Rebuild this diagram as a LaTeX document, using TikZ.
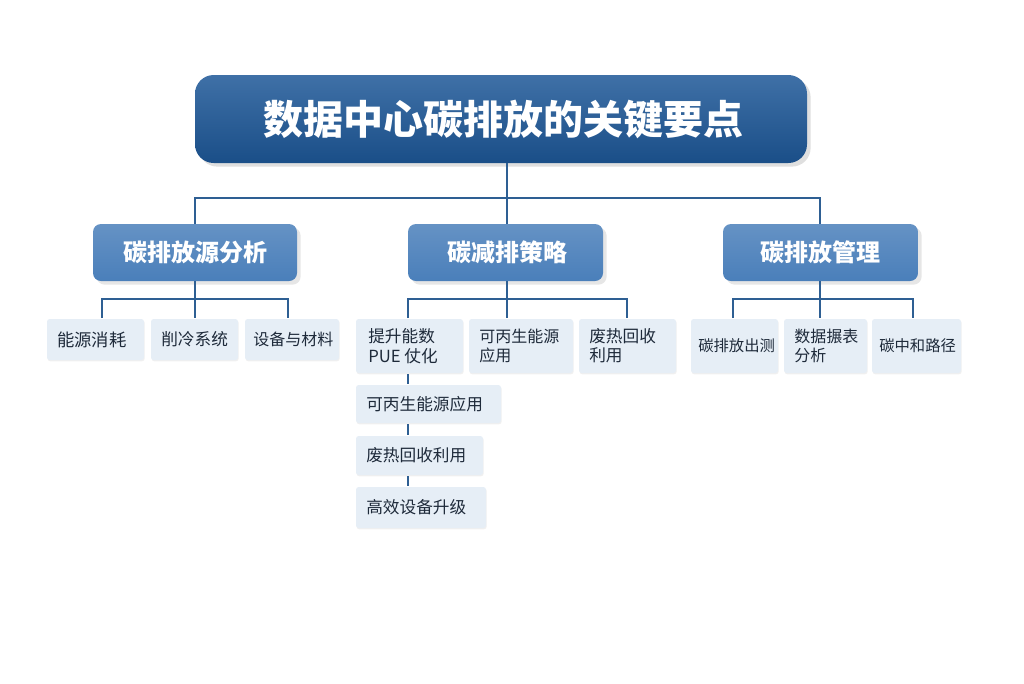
\documentclass[tikz,border=0pt]{standalone}
\usepackage{fontspec}
\setmainfont{Noto Sans CJK SC}
\usetikzlibrary{shadows}
\definecolor{dk}{HTML}{1D5797}
\definecolor{md}{HTML}{4A7FBA}
\definecolor{lf}{HTML}{E6EEF6}
\definecolor{ln}{HTML}{2E5F93}
\definecolor{tx}{HTML}{1E2A3A}
\begin{document}
\begin{tikzpicture}[x=0.75pt,y=-0.75pt,
 top/.style={draw=none,rounded corners=14pt,top color=dk!85!white,bottom color=dk!90!black,drop shadow={opacity=0.25}},
 mid/.style={draw=none,rounded corners=6pt,top color=md!85!white,bottom color=md,drop shadow={opacity=0.2}},
 toptext/.style={text=white,font=\fontsize{30}{34}\selectfont\bfseries},
 midtext/.style={text=white,font=\fontsize{18}{22}\selectfont\bfseries},
 leaf/.style={draw=none,fill=lf,rounded corners=2pt,drop shadow={opacity=0.12,shadow xshift=0.5pt,shadow yshift=-1pt}},
 con/.style={draw=ln,line width=1.5pt}]
\useasboundingbox (0,0) rectangle (1024,683);
% title
\path[top] (195,75) rectangle (807,163);
\node[toptext] (t) at (503,119) {数据中心碳排放的关键要点};
\coordinate (tb) at (507,163);
% level 2
\path[mid] (93,224) rectangle (297,281); \node[midtext] (a) at (195,252) {碳排放源分析};
\path[mid] (408,224) rectangle (603,281); \node[midtext] (b) at (507,252) {碳减排策略};
\path[mid] (723,224) rectangle (918,281); \node[midtext] (c) at (820,252) {碳排放管理};
\coordinate (ab) at (195,281); \coordinate (bb) at (507,281); \coordinate (cb) at (820,281);
\coordinate (at) at (195,224); \coordinate (bt) at (507,224); \coordinate (ct) at (820,224);
\draw[con] (tb) -- (507,198) (195,224) |- (820,198) -- (ct) (507,198) -- (bt);
% leaves
\def\lf#1#2#3#4#5#6#7#8{\path[leaf] (#2,#3) rectangle (#4,#5); \node[text=tx,font=\fontsize{#7}{14.5}\selectfont,align=left,anchor=west,inner sep=0pt] (#1) at (#2+#8,{(#3+#5)/2}) {#6};}
\lf{a1}{47}{319}{144}{360}{能源消耗}{13}{10}
\lf{a2}{151}{319}{238}{360}{削冷系统}{12.5}{10}
\lf{a3}{245}{319}{339}{360}{设备与材料}{12}{8}
\lf{b1}{356}{319}{463}{373}{提升能数\\PUE 仗化}{12.5}{12}
\lf{b2}{469}{319}{573}{373}{可丙生能源\\应用}{12}{10}
\lf{b3}{579}{319}{676}{373}{废热回收\\利用}{12.5}{10}
\lf{b4}{356}{385}{501}{423}{可丙生能源应用}{12.5}{10}
\lf{b5}{356}{436}{483}{475}{废热回收利用}{12.5}{10}
\lf{b6}{356}{487}{486}{528}{高效设备升级}{12.5}{10}
\lf{c1}{691}{319}{778}{373}{碳排放出测}{11.5}{7}
\lf{c2}{784}{319}{867}{373}{数据搌表\\分析}{12}{10}
\lf{c3}{872}{319}{961}{373}{碳中和路径}{11.5}{7}
\draw[con] (ab) -- (195,299) (102,318) |- (288,299) -- (288,318) (195,299) -- (195,318);
\draw[con] (bb) -- (507,299) (408,318) |- (627,299) -- (627,318) (507,299) -- (507,318);
\draw[con] (cb) -- (820,299) (733,318) |- (913,299) -- (913,318) (820,299) -- (820,318);
\draw[con,line width=1.2pt] (408,374) -- (408,384) (408,424) -- (408,435) (408,476) -- (408,486);
\end{tikzpicture}
\end{document}
